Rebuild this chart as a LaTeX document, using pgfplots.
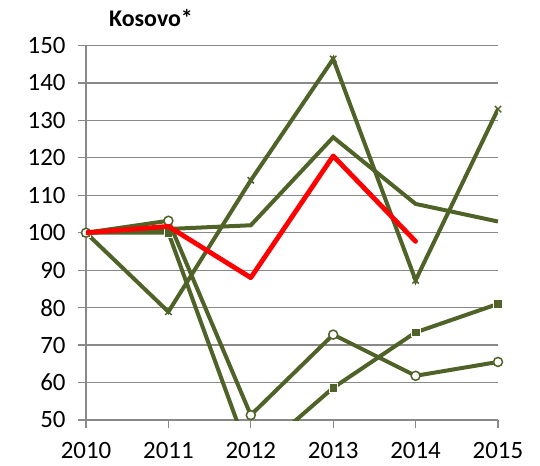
\documentclass[border=0pt]{standalone}
\usepackage{fontspec}
\setmainfont{Carlito}
\usepackage{pgfplots}
\pgfplotsset{compat=1.18}
\definecolor{olive}{HTML}{4F6228}
\definecolor{gridc}{HTML}{898989}
\begin{document}
\begin{tikzpicture}
\begin{axis}[
  at={(0,0)}, anchor=south west,
  scale only axis, width=412bp, height=374.5bp,
  xmin=2010, xmax=2015, ymin=50, ymax=150,
  xtick={2010,...,2015}, ytick={50,60,...,150},
  axis x line*=bottom, axis y line*=left,
  axis line style={draw=gridc, line width=1.3bp, -},
  ymajorgrids, grid style={draw=gridc, line width=1.3bp},
  tick style={draw=gridc, line width=1.3bp},
  tick align=outside, major tick length=8bp,
  /pgf/number format/1000 sep={},
  /pgf/number format/assume math mode=true,
  ticklabel style={font=\fontsize{25}{28}\selectfont, text=black},
  yticklabel style={xshift=-9bp},
  xticklabel style={yshift=-11bp},
  clip mode=individual,
]
\addplot[olive, line width=4bp, mark=x, mark size=4.5bp, mark options={line width=1.5bp}] coordinates {
(2010,100) (2011,78.9) (2012,114) (2013,146.4) (2014,87.3) (2015,133)};
\addplot[olive, line width=4bp, no markers] coordinates {
(2010,100) (2011,101) (2012,102) (2013,125.5) (2014,107.7) (2015,103)};
\begin{scope}
\clip (axis cs:2010,50) rectangle (axis cs:2015,150);
\addplot[olive, line width=4bp, no markers] coordinates {
(2010,100) (2011,100) (2012,39.5) (2013,58.6) (2014,73.4) (2015,81)};
\end{scope}
\addplot[olive, only marks, mark=square*, mark size=4.3bp, mark options={fill=olive, draw=white, line width=0.8bp}] coordinates {
(2010,100) (2011,100) (2013,58.6) (2014,73.4) (2015,81)};
\addplot[olive, line width=4bp, mark=*, mark size=4.5bp, mark options={fill=white, draw=olive, line width=1.5bp}] coordinates {
(2010,100) (2011,103.2) (2012,51.3) (2013,72.8) (2014,61.8) (2015,65.5)};
\addplot[red, line width=4.8bp, no markers, line join=round, line cap=round] coordinates {
(2010,100) (2011,101.7) (2012,88) (2013,120.5) (2014,97.7)};
\end{axis}
\node[font=\fontsize{24}{28}\selectfont\bfseries] at (65bp,402bp) {Kosovo*};
\pgfresetboundingbox
\path[use as bounding box] (-86bp,-46bp) rectangle (454bp,420bp);
\end{tikzpicture}
\end{document}
